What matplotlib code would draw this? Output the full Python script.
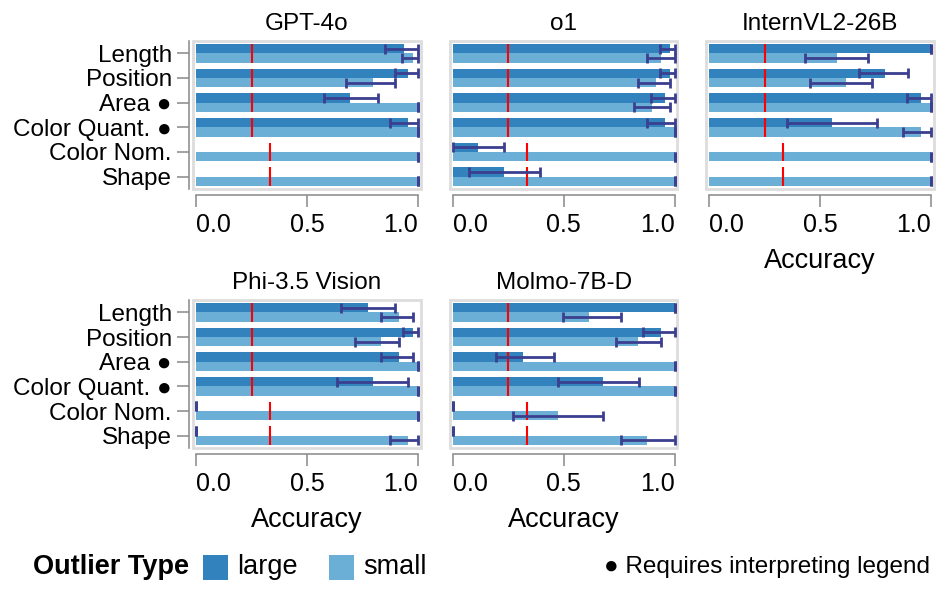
import numpy as np
import matplotlib
matplotlib.use("Agg")
import matplotlib.pyplot as plt
from matplotlib.patches import Rectangle

plt.rcParams['font.family'] = ['Liberation Sans', 'DejaVu Sans']

nan = np.nan

# categories and chance level per category
categories = ["Length", "Position", "Area \u25CF", "Color Quant. \u25CF", "Color Nom.", "Shape"]
chance = [0.25, 0.25, 0.25, 0.25, 0.333, 0.333]

# GPT-4o
gpt4o_large = [0.935, 0.956, 0.695, 0.956, nan, nan]
gpt4o_large_lo = [0.853, 0.895, 0.575, 0.875, nan, nan]
gpt4o_large_hi = [1.0, 1.0, 0.818, 1.0, nan, nan]
gpt4o_small = [0.976, 0.796, 1.0, 1.0, 1.0, 1.0]
gpt4o_small_lo = [0.93, 0.676, 1.0, 1.0, 1.0, 1.0]
gpt4o_small_hi = [1.0, 0.895, 1.0, 1.0, 1.0, 1.0]

# o1
o1_large = [0.977, 0.977, 0.956, 0.956, 0.113, 0.233]
o1_large_lo = [0.934, 0.934, 0.895, 0.873, 0.0, 0.072]
o1_large_hi = [1.0, 1.0, 1.0, 1.0, 0.233, 0.395]
o1_small = [0.937, 0.917, 0.898, 1.0, 1.0, 1.0]
o1_small_lo = [0.873, 0.836, 0.816, 1.0, 1.0, 1.0]
o1_small_hi = [1.0, 0.979, 0.979, 1.0, 1.0, 1.0]

# InternVL2-26B
intern_large = [1.0, 0.795, 0.955, 0.553, nan, nan]
intern_large_lo = [1.0, 0.674, 0.893, 0.353, nan, nan]
intern_large_hi = [1.0, 0.896, 1.0, 0.755, nan, nan]
intern_small = [0.576, 0.615, 1.0, 0.955, 1.0, 1.0]
intern_small_lo = [0.433, 0.454, 1.0, 0.874, 1.0, 1.0]
intern_small_hi = [0.716, 0.735, 1.0, 1.0, 1.0, 1.0]

# Phi-3.5 Vision
phi_large = [0.775, 0.976, 0.916, 0.796, 0.0, 0.0]
phi_large_lo = [0.655, 0.932, 0.835, 0.635, 0.0, 0.0]
phi_large_hi = [0.895, 1.0, 0.976, 0.956, 0.0, 0.0]
phi_small = [0.916, 0.835, 1.0, 1.0, 1.0, 0.956]
phi_small_lo = [0.835, 0.715, 1.0, 1.0, 1.0, 0.875]
phi_small_hi = [0.976, 0.916, 1.0, 1.0, 1.0, 1.0]

# Molmo-7B-D
molmo_large = [1.0, 0.937, 0.315, 0.676, 0.0, 0.0]
molmo_large_lo = [1.0, 0.855, 0.193, 0.474, 0.0, 0.0]
molmo_large_hi = [1.0, 1.0, 0.456, 0.837, 0.0, 0.0]
molmo_small = [0.616, 0.836, 1.0, 1.0, 0.474, 0.877]
molmo_small_lo = [0.495, 0.736, 1.0, 1.0, 0.273, 0.756]
molmo_small_hi = [0.756, 0.937, 1.0, 1.0, 0.676, 1.0]

models = ["GPT-4o", "o1", "InternVL2-26B", "Phi-3.5 Vision", "Molmo-7B-D"]
model_data = [
    (gpt4o_large, gpt4o_large_lo, gpt4o_large_hi, gpt4o_small, gpt4o_small_lo, gpt4o_small_hi),
    (o1_large, o1_large_lo, o1_large_hi, o1_small, o1_small_lo, o1_small_hi),
    (intern_large, intern_large_lo, intern_large_hi, intern_small, intern_small_lo, intern_small_hi),
    (phi_large, phi_large_lo, phi_large_hi, phi_small, phi_small_lo, phi_small_hi),
    (molmo_large, molmo_large_lo, molmo_large_hi, molmo_small, molmo_small_lo, molmo_small_hi),
]

c_large = '#3182bd'
c_small = '#6baed6'
c_err = '#3b3f8f'
c_axis = '#888888'
c_frame = '#dddddd'

W, H = 947, 592
fig = plt.figure(figsize=(W / 100, H / 100), dpi=100)

col_x0 = [196, 452.7, 709]   # pixel position of x=0
row_y = [(41, 189), (300, 448)]
scale = 222.0
pad = 0.012

def add_panel(col, row):
    x0 = col_x0[col] - pad * scale
    w = (1 + 2 * pad) * scale
    top, bot = row_y[row]
    return fig.add_axes([x0 / W, 1 - bot / H, w / W, (bot - top) / H])

positions = [(0, 0), (1, 0), (2, 0), (0, 1), (1, 1)]
y = np.arange(len(categories))
off = 0.19
bh = 0.38

for i, (name, (lg, lg_lo, lg_hi, sm, sm_lo, sm_hi)) in enumerate(zip(models, model_data)):
    col, row = positions[i]
    ax = add_panel(col, row)
    lg = np.array(lg); lg_lo = np.array(lg_lo); lg_hi = np.array(lg_hi)
    sm = np.array(sm); sm_lo = np.array(sm_lo); sm_hi = np.array(sm_hi)

    ax.barh(y - off, np.nan_to_num(lg), height=bh, color=c_large, zorder=2)
    ax.barh(y + off, np.nan_to_num(sm), height=bh, color=c_small, zorder=2)
    ax.vlines(chance, y - 2 * off, y + 2 * off, color='#ff0000', lw=1.5, zorder=3)

    for vals, lo, hi, yy in [(lg, lg_lo, lg_hi, y - off), (sm, sm_lo, sm_hi, y + off)]:
        m = ~np.isnan(vals)
        ax.errorbar(vals[m], yy[m], xerr=[vals[m] - lo[m], hi[m] - vals[m]], fmt='none',
                    ecolor=c_err, elinewidth=2, capsize=3.3, capthick=2, zorder=4)

    ax.set_xlim(-pad, 1 + pad)
    ax.set_ylim(len(categories) - 0.5, -0.5)
    for s in ['top', 'right']:
        ax.spines[s].set_visible(False)
    ax.add_patch(Rectangle((0, 0), 1, 1, transform=ax.transAxes, fill=False,
                           edgecolor=c_frame, lw=2, zorder=1, clip_on=False))

    ax.spines['bottom'].set_position(('outward', 4))
    ax.spines['bottom'].set_bounds(0, 1)
    ax.spines['bottom'].set_color(c_axis)
    ax.spines['bottom'].set_linewidth(1.1)
    ax.set_xticks([0, 0.5, 1.0])
    ax.set_xticklabels(['0.0', '0.5', '1.0'])
    labs = ax.get_xticklabels()
    labs[0].set_horizontalalignment('left')
    labs[-1].set_horizontalalignment('right')
    ax.tick_params(axis='x', length=8.5, width=1.1, color=c_axis, labelsize=18, pad=5)

    if col == 0:
        ax.spines['left'].set_position(('outward', 3))
        ax.spines['left'].set_color(c_axis)
        ax.spines['left'].set_linewidth(1.1)
        ax.set_yticks(y)
        ax.set_yticklabels(categories)
        ax.tick_params(axis='y', length=8.5, width=1.1, color=c_axis, labelsize=17.5, pad=4)
    else:
        ax.spines['left'].set_visible(False)
        ax.set_yticks([])

    if i in (2, 3, 4):
        ax.set_xlabel('Accuracy', fontsize=19.5, labelpad=8)
    ax.set_title(name, fontsize=17.5, pad=8)

# legend
ly = 567
fig.text(33 / W, 1 - ly / H, 'Outlier Type', fontsize=19.5, weight='bold', va='center')
fig.add_artist(Rectangle((203 / W, 1 - 580 / H), 25 / W, 25 / H, transform=fig.transFigure,
                         facecolor=c_large, edgecolor='none'))
fig.text(237 / W, 1 - ly / H, 'large', fontsize=19.5, va='center')
fig.add_artist(Rectangle((329 / W, 1 - 580 / H), 25 / W, 25 / H, transform=fig.transFigure,
                         facecolor=c_small, edgecolor='none'))
fig.text(363 / W, 1 - ly / H, 'small', fontsize=19.5, va='center')
fig.text(930 / W, 1 - ly / H, '\u25CF Requires interpreting legend', fontsize=17.5,
         ha='right', va='center')

fig.savefig('out.png', dpi=100)
